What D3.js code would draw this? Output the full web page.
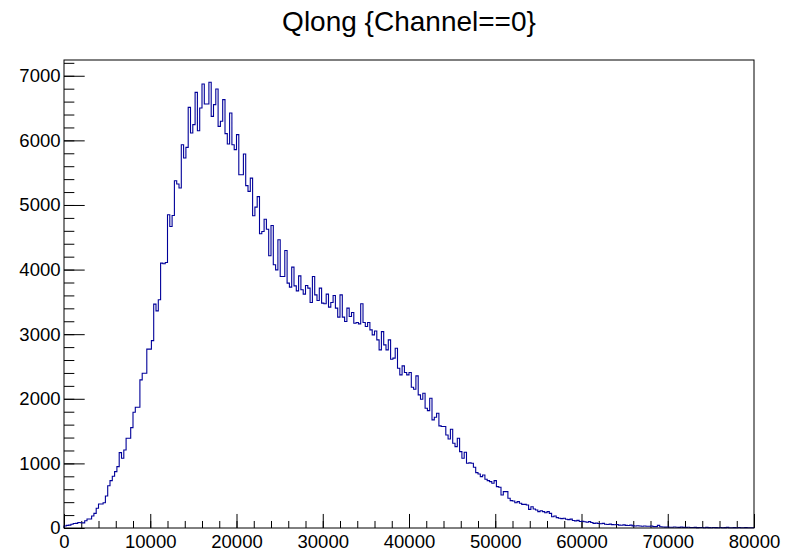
<!DOCTYPE html>
<html lang="en">
<head>
<meta charset="utf-8">
<script src="https://d3js.org/d3.v7.min.js"></script>
<style>
  body { margin: 0; background: #fff; }
  text { font-family: "Liberation Sans", Arial, Helvetica, sans-serif; }
</style>
</head>
<body>
<div id="my_dataviz"></div>
<script>

    // histogram binning (300 bins over 0..80000)
    var xMin = 0, xMax = 80000, nBins = 300;

    // bin contents
    var counts = [
      30,40,45,57,70,72,85,82,80,113,139,139,186,227,305,372,372,392,496,655,
      733,800,872,950,1167,1080,1208,1389,1389,1554,1792,1870,1870,2293,2396,2396,2768,2768,2900,3465,
      3361,3532,4100,4090,4110,4849,4667,4838,5375,5325,5262,5933,5727,5892,6511,6114,6243,6743,6150,6500,
      6873,6563,6563,6899,6372,6553,6796,6217,6295,6630,6104,5944,6424,5933,5856,6089,5468,5468,5789,5300,
      5210,5415,4833,4966,5130,4554,4590,4780,4625,4213,4683,4074,3996,4461,3893,3893,4296,3790,3728,4038,
      3748,3671,3903,3687,3620,3754,3713,3490,3893,3609,3521,3713,3481,3470,3620,3419,3490,3598,3403,3264,
      3609,3264,3196,3403,3273,3335,3170,3180,3160,3470,3180,3118,3180,3067,2990,3050,2912,2757,3040,2835,
      2757,2912,2613,2630,2783,2473,2370,2509,2406,2370,2406,2179,2148,2354,2060,1993,2086,1854,1817,2009,
      1673,1715,1777,1580,1570,1570,1440,1378,1528,1311,1260,1389,1182,1080,1172,1002,1008,1002,940,857,
      836,795,821,754,733,718,692,733,640,630,511,563,563,460,423,418,392,408,382,366,
      366,356,289,330,294,279,253,268,253,237,253,227,175,186,160,150,145,150,135,130,
      138,115,110,118,100,104,96,90,98,85,72,75,70,66,72,58,55,60,52,50,
      55,45,42,48,40,38,44,33,30,35,30,28,32,27,26,30,22,21,40,20,
      15,14,16,12,12,15,11,10,13,10,9,12,8,7,9,6,8,7,5,9,
      6,5,8,6,4,7,5,6,9,5,4,6,5,7,4,5,6,3,5,4
    ];

    // axis ticks
    var xMajor = [0, 10000, 20000, 30000, 40000, 50000, 60000, 70000, 80000];
    var yMajor = [0, 1000, 2000, 3000, 4000, 5000, 6000, 7000];
    var xMinorStep = 2000, yMinorStep = 200;
    var yTop = 7244;
    var title = "Qlong {Channel==0}";

    // frame geometry
    var frame = {left: 64, right: 754, top: 60, bottom: 528};

    var svg = d3.select("#my_dataviz")
      .append("svg")
        .attr("width", 789)
        .attr("height", 552);

    svg.append("rect")
        .attr("width", 789).attr("height", 552)
        .style("fill", "#fff");

    var x = d3.scaleLinear().domain([xMin, xMax]).range([frame.left, frame.right]);
    var y = d3.scaleLinear().domain([0, yTop]).range([frame.bottom, frame.top]);

    var w = frame.right - frame.left, h = frame.bottom - frame.top;

    // minor ticks
    var xMinor = d3.range(xMin, xMax + 1, xMinorStep);
    var yMinor = d3.range(0, yTop, yMinorStep);

    svg.append("g")
        .attr("transform", "translate(0," + frame.bottom + ")")
        .call(d3.axisBottom(x).tickValues(xMinor).tickSize(-h * 0.015).tickFormat(""))
        .call(function(g) { g.select(".domain").remove(); });

    svg.append("g")
        .attr("transform", "translate(0," + frame.bottom + ")")
        .call(d3.axisBottom(x).tickValues(xMajor).tickSize(-h * 0.03).tickPadding(7).tickFormat(d3.format("d")))
        .call(function(g) { g.select(".domain").remove(); })
        .selectAll("text").style("font-size", "18.5px").attr("fill", "#000");

    svg.append("g")
        .attr("transform", "translate(" + frame.left + ",0)")
        .call(d3.axisLeft(y).tickValues(yMinor).tickSize(-w * 0.015).tickFormat(""))
        .call(function(g) { g.select(".domain").remove(); });

    svg.append("g")
        .attr("transform", "translate(" + frame.left + ",0)")
        .call(d3.axisLeft(y).tickValues(yMajor).tickSize(-w * 0.03).tickPadding(3.5).tickFormat(d3.format("d")))
        .call(function(g) { g.select(".domain").remove(); })
        .selectAll("text").style("font-size", "18.5px").attr("fill", "#000");

    svg.selectAll(".tick line").attr("stroke", "#000");

    // histogram outline
    var bw = (xMax - xMin) / nBins;
    var pts = [[xMin, 0]];
    counts.forEach(function(c, i) {
      pts.push([xMin + i * bw, c]);
      pts.push([xMin + (i + 1) * bw, c]);
    });
    pts.push([xMax, 0]);

    svg.append("path")
        .datum(pts)
        .attr("d", d3.line().x(function(d) { return x(d[0]); }).y(function(d) { return y(d[1]); }))
        .attr("fill", "none")
        .attr("stroke", "#000099")
        .attr("stroke-width", 1.1);

    // frame
    svg.append("rect")
        .attr("x", frame.left).attr("y", frame.top)
        .attr("width", w).attr("height", h)
        .attr("fill", "none")
        .attr("stroke", "#000")
        .attr("stroke-width", 1);

    // title
    svg.append("text")
        .attr("x", 409)
        .attr("y", 31)
        .attr("text-anchor", "middle")
        .style("font-size", "28px")
        .text(title);

</script>
</body>
</html>
